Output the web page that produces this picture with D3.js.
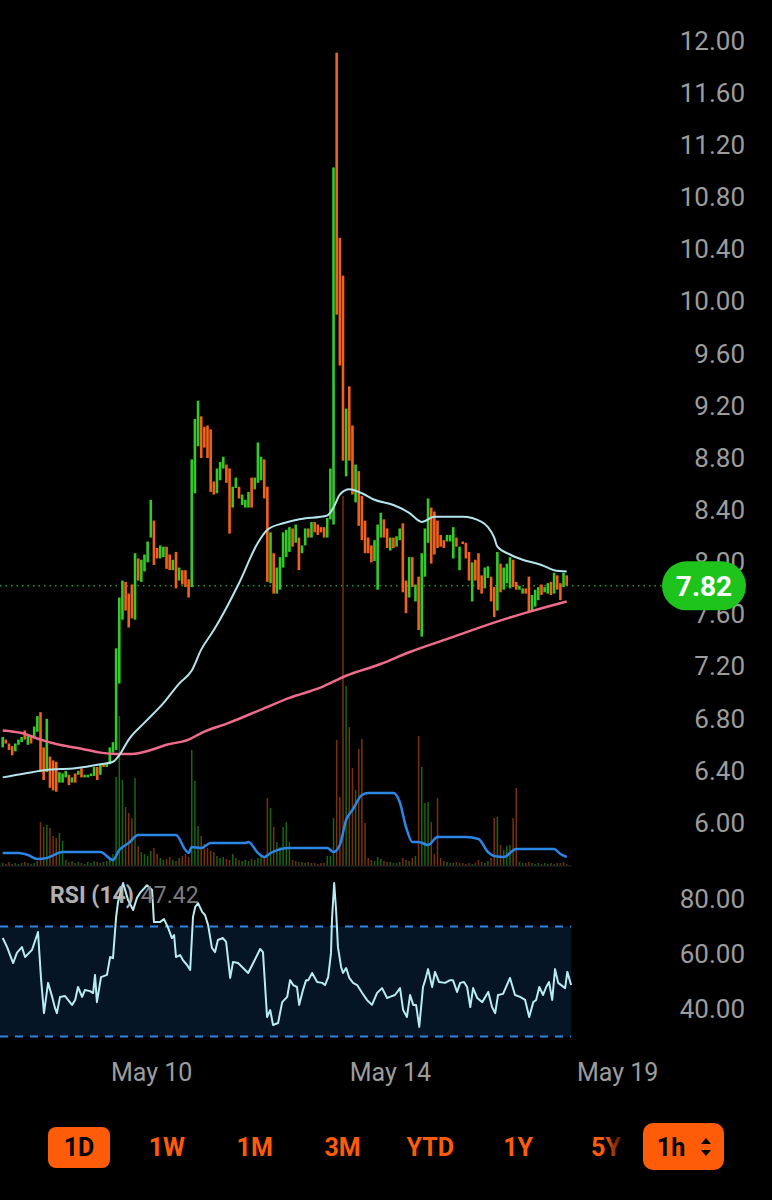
<!DOCTYPE html>
<html lang="en">
<head>
<meta charset="UTF-8">
<title>hourly chart 1h</title>
<style>
  html, body { margin:0; padding:0; background:#000; }
  svg { display:block; }
  text { font-family: Roboto, "Liberation Sans", sans-serif; }
</style>
</head>
<body>
<script src="https://cdn.jsdelivr.net/npm/d3@7"></script>
<script>
// hourly candles
var opens = [6.58,6.64,6.61,6.59,6.55,6.60,6.62,6.71,6.60,6.67,
  6.66,6.70,6.85,6.58,6.39,6.51,6.48,6.47,6.31,6.31,
  6.35,6.37,6.31,6.38,6.37,6.42,6.35,6.35,6.36,6.36,
  6.43,6.37,6.45,6.43,6.45,6.54,6.56,7.07,7.56,7.85,
  7.76,7.83,7.56,8.03,7.85,7.93,8.00,8.19,8.32,8.11,
  8.03,8.04,8.12,8.06,7.94,8.08,7.86,7.94,7.94,7.87,
  7.81,8.53,8.89,9.12,9.04,9.05,9.02,8.62,8.53,8.63,
  8.72,8.75,8.72,8.42,8.57,8.58,8.44,8.42,8.42,8.65,
  8.56,8.61,8.63,8.79,8.58,7.84,8.07,7.76,7.79,7.96,
  8.04,8.08,8.26,8.15,8.19,8.07,8.13,8.26,8.19,8.31,
  8.29,8.27,8.27,8.19,8.33,8.29,11.91,10.49,10.20,8.66,
  9.35,9.05,8.46,8.70,8.51,8.32,8.19,8.13,8.01,7.79,
  8.19,8.33,8.26,8.09,8.19,8.12,8.17,8.30,7.86,7.73,
  8.04,7.70,7.89,7.43,7.89,8.15,8.42,8.39,8.32,8.21,
  8.17,8.16,8.16,8.03,8.19,7.94,8.16,8.15,8.08,7.70,
  8.02,8.07,7.90,7.80,7.88,7.89,7.81,7.63,7.99,7.79,
  7.84,7.80,8.02,7.85,7.79,7.76,7.80,7.89,7.62,7.66,
  7.71,7.83,7.77,7.76,7.85,7.76,7.90,7.84,7.81,7.90];
var closes = [6.66,6.61,6.56,6.52,6.61,6.64,6.66,6.64,6.67,6.61,
  6.74,6.82,6.39,6.33,6.80,6.27,6.25,6.24,6.39,6.38,
  6.40,6.29,6.35,6.31,6.40,6.35,6.37,6.37,6.38,6.43,
  6.33,6.45,6.43,6.46,6.58,6.62,7.34,7.73,7.86,7.63,
  7.50,7.57,8.07,7.86,8.02,8.06,8.16,8.48,7.98,8.03,
  8.13,8.12,7.95,7.94,8.02,7.80,7.96,7.83,7.81,7.73,
  8.79,9.10,9.24,8.80,8.88,8.80,8.54,8.52,8.72,8.77,
  8.81,8.61,8.22,8.58,8.65,8.49,8.52,8.48,8.54,8.42,
  8.65,8.92,8.81,8.49,7.85,8.23,7.76,7.96,8.04,8.23,
  8.25,8.27,8.12,8.29,7.94,8.13,8.26,8.19,8.31,8.23,
  8.21,8.23,8.19,8.34,8.72,11.03,9.90,9.51,8.78,9.18,
  8.78,8.52,8.75,8.28,8.17,8.07,8.07,8.00,8.17,8.29,
  8.38,8.19,8.11,8.19,8.11,8.20,8.26,7.77,7.61,8.04,
  7.81,7.83,7.48,8.07,8.26,8.49,7.99,8.06,8.11,8.12,
  8.11,8.21,8.21,8.27,8.12,8.12,8.14,8.03,7.86,8.00,
  7.86,7.79,7.76,7.96,7.97,7.70,7.58,8.08,7.77,7.96,
  7.99,8.04,7.81,7.79,7.82,7.80,7.76,7.62,7.75,7.79,
  7.81,7.75,7.81,7.84,7.75,7.92,7.79,7.71,7.92,7.82];
var volumes = [3,2,4,2,3,2,3,4,3,2,3,5,
  44,39,41,38,30,28,33,25,
  6,4,5,3,4,3,2,4,3,5,4,3,4,5,8,12,
  89,150,86,59,53,48,88,
  20,14,12,10,15,18,12,8,6,7,9,6,5,8,10,12,9,
  116,85,40,
  30,22,18,15,14,10,8,9,7,6,12,8,6,5,6,5,7,6,8,10,9,
  68,58,39,24,19,39,44,24,6,
  5,4,4,3,4,3,3,2,3,3,10,
  10,48,126,69,370,180,139,98,76,117,127,43,
  8,6,5,9,7,5,4,4,3,3,4,
  8,6,5,8,10,130,99,63,64,44,12,68,8,
  5,4,3,3,4,3,3,2,3,2,3,6,4,3,5,
  8,48,49,21,16,20,21,48,78,
  4,3,3,4,3,2,3,2,3,2,3,2,3,3,4,2];

// moving averages (candle index, price)
var cyanIdx = [0,7,15,23,31,35,37,40,45,51,56,60,63,67,75,81,84,89,94,103,105,107,110,114,118,124,129,133,137,146,152,154,156,157,161,165,171,175,179];
var cyanVal = [6.35,6.38,6.41,6.42,6.45,6.47,6.52,6.64,6.77,6.92,7.07,7.17,7.33,7.48,7.84,8.15,8.25,8.30,8.33,8.36,8.42,8.52,8.56,8.53,8.48,8.44,8.38,8.31,8.35,8.35,8.31,8.27,8.19,8.12,8.06,8.02,7.98,7.94,7.93];
var pinkIdx = [0,6,12,18,25,31,36,41,47,52,59,63,72,82,91,101,109,120,129,142,155,167,179];
var pinkVal = [6.71,6.69,6.64,6.60,6.57,6.54,6.53,6.53,6.56,6.60,6.64,6.69,6.77,6.87,6.96,7.04,7.13,7.22,7.31,7.42,7.53,7.62,7.70];

// volume indicator line (candle index, volume units)
var blueIdx = [0,5,8,11,14,19,31,35,37,40,43,55,58,59,60,63,66,77,78,81,83,85,91,103,105,107,109,111,114,116,124,126,128,130,132,135,138,147,151,154,156,159,163,175,177,179];
var blueVal = [13,13,11,7,8,14,14,6,16,23,31,31,16,13,19,18,23,23,24,13,9,13,18,18,14,21,46,56,71,73,73,64,39,24,24,21,29,29,27,14,10,9,17,17,12,9];

// RSI (14) points: [candle index, value]
var rsiPts = [[0,65.8],[1.4,62.5],[3.3,56.7],[4.5,60.4],[6.1,62.5],[7.1,58.9],[9.3,61.5],[10.9,66.9],[11.2,68],[12.2,50.5],
  [13.1,38.5],[14.4,49.5],[15.7,44.4],[16.6,40.4],[17.2,38.5],[18.2,44.4],[19.8,44.7],[22,41.5],[23,43.3],[23.9,48],
  [25.2,44.4],[26.1,46.9],[27.7,46.5],[28.7,45.8],[29.3,52.4],[29.9,42.5],[31.2,51.6],[33.1,52.4],[34.1,58.9],[35,58.5],
  [36,73.5],[36.6,78.9],[38.2,85.8],[39.8,79.6],[41.4,76],[42.6,80.4],[43.6,82.2],[45.8,85],[47.4,83.3],[48,71.6],
  [49.9,71.6],[51.2,72.7],[52.5,69.5],[53.7,65.8],[54.4,66.9],[55,58.9],[56.3,59.6],[57.2,57.8],[58.5,56],[59.5,54.2],
  [60.4,73.5],[61.1,77.1],[62,78.5],[63.3,75.3],[64.2,74.2],[65.2,70.5],[66.4,62.2],[67.4,60.7],[68.3,65.1],[69.9,65.8],
  [70.9,64.4],[72.2,51.3],[73.1,57.1],[74.7,56.7],[76.3,54.9],[77.9,53.1],[79.5,56.7],[81.7,61.8],[82.6,60.7],[83.9,37.1],
  [84.9,39.6],[85.8,34.2],[87.4,34.9],[88.7,42.5],[90.3,44.4],[91.2,50.5],[92.2,48.7],[93.4,48],[94.1,41.5],[95.3,46.9],
  [96.3,50.5],[97,50.5],[98.2,53.1],[99.8,49.8],[101.4,49.5],[102.3,48.7],[103.3,51.6],[104.2,60.4],[104.5,72.4],[105.2,85.8],
  [105.8,76],[106.4,62.5],[107.4,55.3],[108,53.1],[109,54.9],[110,51.3],[111.2,49.5],[112.5,48.7],[114.1,45.8],[115.6,43.3],
  [117.2,41.5],[118.8,45.8],[120.4,47.6],[122,44],[122.9,44.4],[124.5,45.1],[126.1,47.6],[127.1,39.6],[128.3,37.1],[129.3,45.1],
  [130.3,41.5],[131.2,41.5],[132.2,33.5],[133.4,48],[134.1,50.5],[135,54.5],[136.3,48],[137.2,53.5],[138.5,49.8],[140.4,49.5],
  [142,50.5],[142.9,50.5],[144.2,46.2],[145.2,49.5],[146.4,49.8],[147.4,48],[148.4,40.7],[149.3,47.6],[150.6,44],[152.2,42.5],
  [154.1,46.2],[155.3,40.7],[156.3,38.5],[157.2,45.1],[158.8,45.5],[161,51.3],[162.6,45.1],[164.2,44.4],[165.8,43.3],[167.1,37.1],
  [168.4,42.5],[169.3,43.3],[170.3,48],[171.5,45.1],[172.5,48],[173.4,49.8],[174.4,43.3],[175.3,54.5],[176.3,49.5],[178.5,47.6],
  [179.2,53.5],[180.4,48.7]];
var rsiLast = 47.42;

var priceTicks = [6.0,6.4,6.8,7.2,7.6,8.0,8.4,8.8,9.2,9.6,10.0,10.4,10.8,11.2,11.6,12.0];
var rsiTicks = [40,60,80];
var dateTicks = [47.1,122.9,195];
var dateLabels = ["May 10","May 14","May 19"];
var periods = ["1D","1W","1M","3M","YTD","1Y","5Y"];

var width = 772, height = 1200;
var green = "#35c82a", orange = "#f0621c", orangeUI = "#ff5c0a", gray = "#9c9c9c";

var svg = d3.select("body").append("svg")
  .attr("width",width)
  .attr("height",height);
svg.append("rect").attr("width",width).attr("height",height).attr("fill","#000");

var xScale = d3.scaleLinear().domain([0,179]).range([2.7,566.7]);
var yScale = d3.scaleLinear().domain([6,12]).range([823,41]);
var volScale = d3.scaleLinear().domain([0,370]).range([866,496]);
var rsiScale = d3.scaleLinear().domain([40,80]).range([1009,899]);

var candles = opens.map(function(o,i){ return {i:i, o:o, c:closes[i], v:volumes[i]}; });
function col(d){ return d.c >= d.o ? green : orange; }

// volume bars
svg.append("g").selectAll("rect")
  .data(candles)
  .enter().append("rect")
  .attr("x",function(d){return xScale(d.i)-0.75;})
  .attr("width",1.5)
  .attr("y",function(d){return volScale(d.v);})
  .attr("height",function(d){return volScale(0)-volScale(d.v);})
  .attr("fill",col)
  .attr("opacity",0.5);

svg.append("line")
  .attr("x1",0).attr("x2",xScale(180.5))
  .attr("y1",volScale(0)).attr("y2",volScale(0))
  .attr("stroke","#1e1e1e").attr("stroke-width",1.5);

// volume indicator
var blueLine = d3.line()
  .x(function(d){return xScale(d[0]);})
  .y(function(d){return volScale(d[1]);})
  .curve(d3.curveMonotoneX);
svg.append("path")
  .datum(blueIdx.map(function(d,i){return [d, blueVal[i]];}))
  .attr("fill","none")
  .attr("stroke","#2b86e6")
  .attr("stroke-width",2.5)
  .attr("d",blueLine);

// last price dotted line
var last = closes[closes.length-1];
svg.append("line")
  .attr("x1",0).attr("x2",662)
  .attr("y1",yScale(last)).attr("y2",yScale(last))
  .attr("stroke","#2a9a22")
  .attr("stroke-width",1.5)
  .attr("stroke-dasharray","1.5,4");

// candles
svg.append("g").selectAll("rect")
  .data(candles)
  .enter().append("rect")
  .attr("x",function(d){return xScale(d.i)-1.3;})
  .attr("width",2.6)
  .attr("y",function(d){return yScale(Math.max(d.o,d.c));})
  .attr("height",function(d){return Math.max(1, Math.abs(yScale(d.o)-yScale(d.c)));})
  .attr("fill",col);

// moving averages
var maLine = d3.line()
  .x(function(d){return xScale(d[0]);})
  .y(function(d){return yScale(d[1]);})
  .curve(d3.curveMonotoneX);
svg.append("path")
  .datum(pinkIdx.map(function(d,i){return [d, pinkVal[i]];}))
  .attr("fill","none").attr("stroke","#ef6b8c").attr("stroke-width",2.5)
  .attr("d",maLine);
svg.append("path")
  .datum(cyanIdx.map(function(d,i){return [d, cyanVal[i]];}))
  .attr("fill","none").attr("stroke","#b4e4ec").attr("stroke-width",2)
  .attr("d",maLine);

// price axis
var yAxis = svg.append("g")
  .attr("transform","translate(745,0)")
  .call(d3.axisRight(yScale).tickValues(priceTicks).tickFormat(d3.format(".2f")).tickSize(0).tickPadding(0));
yAxis.select(".domain").remove();
yAxis.selectAll("text")
  .attr("text-anchor","end")
  .attr("fill",gray)
  .style("font-size","26px")
  .style("font-family","Roboto, 'Liberation Sans', sans-serif");

// last price pill
svg.append("rect")
  .attr("x",662).attr("y",yScale(last)-24.5)
  .attr("width",84).attr("height",49).attr("rx",24.5)
  .attr("fill","#1ec41c");
svg.append("text")
  .attr("x",704).attr("y",yScale(last))
  .attr("dy","0.36em")
  .attr("text-anchor","middle")
  .attr("fill","#fff")
  .style("font-size","28px").style("font-weight","bold")
  .text(d3.format(".2f")(last));

// RSI panel
svg.append("rect")
  .attr("x",0).attr("width",xScale(180.4))
  .attr("y",rsiScale(70)).attr("height",rsiScale(30)-rsiScale(70))
  .attr("fill","#051526");
[70,30].forEach(function(v){
  svg.append("line")
    .attr("x1",0).attr("x2",xScale(180.4))
    .attr("y1",rsiScale(v)).attr("y2",rsiScale(v))
    .attr("stroke","#2f86dd").attr("stroke-width",2)
    .attr("stroke-dasharray","8,7");
});
var rsiLine = d3.line()
  .x(function(d){return xScale(d[0]);})
  .y(function(d){return rsiScale(d[1]);});
svg.append("path")
  .datum(rsiPts)
  .attr("fill","none").attr("stroke","#b8ecf5").attr("stroke-width",2)
  .attr("stroke-linejoin","round")
  .attr("d",rsiLine);

var rsiLabel = svg.append("text")
  .attr("x",50).attr("y",903)
  .style("font-size","23px")
  .attr("opacity",0.9);
rsiLabel.append("tspan").attr("fill","#c4c4c4").style("font-weight","bold").text("RSI (14)");
rsiLabel.append("tspan").attr("fill","#8a8a8a").attr("dx",7).text(d3.format(".2f")(rsiLast));

var rAxis = svg.append("g")
  .attr("transform","translate(745,0)")
  .call(d3.axisRight(rsiScale).tickValues(rsiTicks).tickFormat(d3.format(".2f")).tickSize(0).tickPadding(0));
rAxis.select(".domain").remove();
rAxis.selectAll("text")
  .attr("text-anchor","end")
  .attr("fill",gray)
  .style("font-size","26px")
  .style("font-family","Roboto, 'Liberation Sans', sans-serif");

// date axis
var xAxis = svg.append("g")
  .attr("transform","translate(0,1057)")
  .call(d3.axisBottom(xScale).tickValues(dateTicks).tickFormat(function(d,i){return dateLabels[i];}).tickSize(0).tickPadding(6));
xAxis.select(".domain").remove();
xAxis.selectAll("text")
  .attr("fill",gray)
  .style("font-size","25px")
  .style("font-family","Roboto, 'Liberation Sans', sans-serif");

// period buttons
var pScale = d3.scalePoint().domain(periods).range([79,606]);
svg.append("rect")
  .attr("x",pScale("1D")-31).attr("y",1127)
  .attr("width",62).attr("height",41).attr("rx",8)
  .attr("fill",orangeUI);
svg.append("g").selectAll("text")
  .data(periods)
  .enter().append("text")
  .attr("x",function(d){return pScale(d);})
  .attr("y",1147)
  .attr("dy","0.36em")
  .attr("text-anchor","middle")
  .attr("fill",function(d){return d==="1D" ? "#000" : orangeUI;})
  .style("font-size","25px").style("font-weight","bold")
  .text(function(d){return d;});

// fade of the scrolled row
var grad = svg.append("defs").append("linearGradient").attr("id","fade");
grad.append("stop").attr("offset","0%").attr("stop-color","#000").attr("stop-opacity",0);
grad.append("stop").attr("offset","100%").attr("stop-color","#000").attr("stop-opacity",0.9);
svg.append("rect").attr("x",605).attr("y",1120).attr("width",20).attr("height",55).attr("fill","url(#fade)");
svg.append("rect").attr("x",625).attr("y",1120).attr("width",18).attr("height",55).attr("fill","#000").attr("opacity",0.9);

svg.append("rect")
  .attr("x",643).attr("y",1123)
  .attr("width",81).attr("height",47).attr("rx",10)
  .attr("fill",orangeUI);
svg.append("text")
  .attr("x",671).attr("y",1147).attr("dy","0.36em")
  .attr("text-anchor","middle").attr("fill","#000")
  .style("font-size","25px").style("font-weight","bold")
  .text("1h");
svg.append("path")
  .attr("d","M701,1144 L706,1138 L711,1144 Z M701,1150 L706,1156 L711,1150 Z")
  .attr("fill","#000");
</script>
</body>
</html>
